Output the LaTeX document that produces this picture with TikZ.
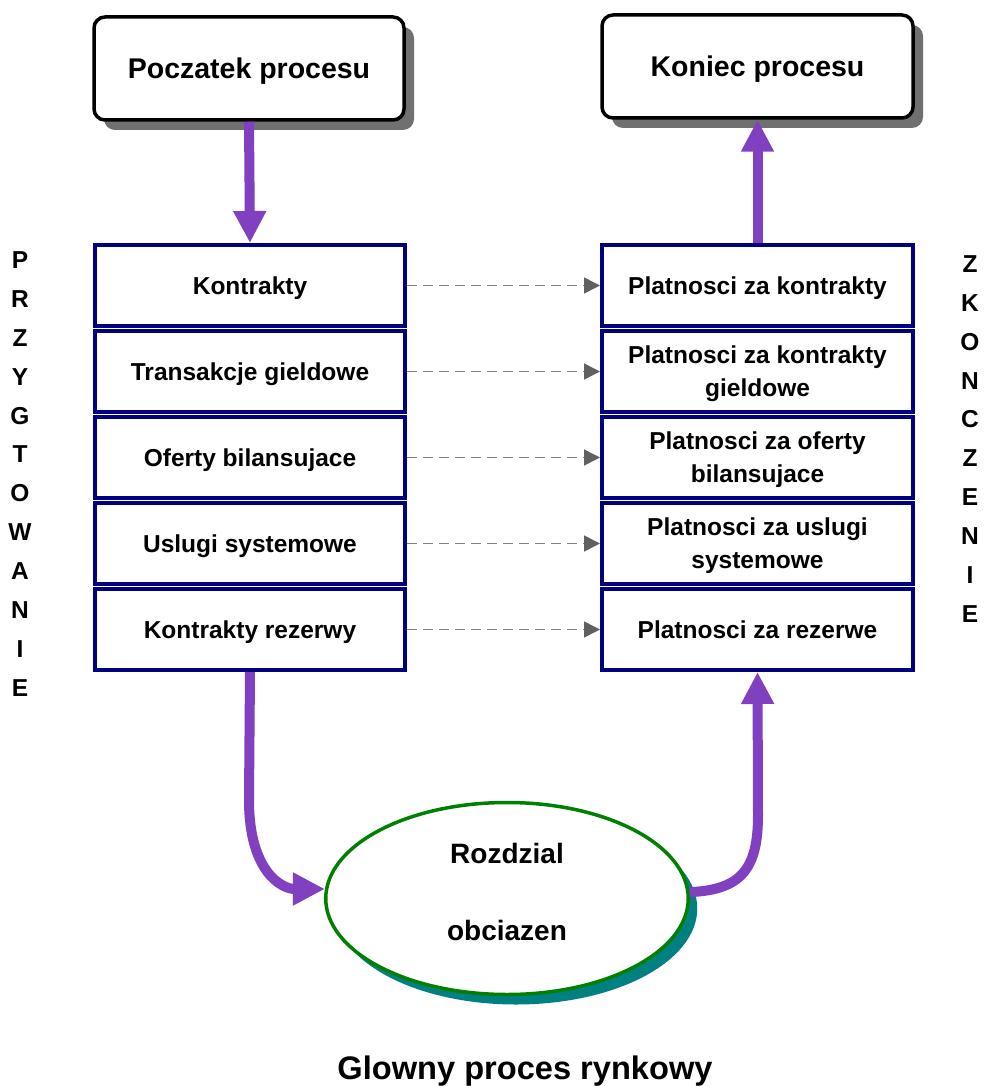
\documentclass[tikz,border=0pt]{standalone}
\usepackage{fontspec}
\setmainfont{Liberation Sans}
\usetikzlibrary{arrows.meta,shapes.geometric,shadows}

\definecolor{navyline}{RGB}{0,0,128}
\definecolor{flow}{RGB}{128,64,192}
\definecolor{ringgreen}{RGB}{0,128,0}
\definecolor{ringshadow}{RGB}{0,128,128}
\definecolor{boxshadow}{RGB}{112,112,112}
\definecolor{dashgray}{RGB}{128,128,128}
\definecolor{tipgray}{RGB}{96,96,96}

\begin{document}
\begin{tikzpicture}[x=1pt,y=-1pt,
  endbox/.style={draw=black, line width=3.5pt, rounded corners=11pt, fill=white,
    minimum width=310pt, minimum height=103pt, inner sep=0pt, text depth=0pt,
    font=\fontsize{28.5}{34}\selectfont\bfseries,
    drop shadow={shadow xshift=10pt, shadow yshift=-10pt, fill=boxshadow, opacity=1}},
  stagebox/.style={draw=navyline, line width=4pt, fill=white,
    minimum width=310pt, minimum height=81pt, inner sep=0pt, align=center, text depth=0pt,
    font=\fontsize{24.5}{33}\selectfont\bfseries},
  flowarrow/.style={draw=flow, line width=10pt, -{Triangle[length=32pt,width=31pt]}},
  linkarrow/.style={draw=dashgray, line width=1.5pt, dash pattern=on 10pt off 6pt,
    -{Triangle[length=16pt,width=16pt,color=tipgray]}},
  sidelabel/.style={align=center, inner sep=0pt, font=\fontsize{24.5}{38.9}\selectfont\bfseries}
]
\useasboundingbox (0,0) rectangle (985,1086);

% start and end of the process
\node[endbox] (start) at (249,68.5) {Poczatek procesu};
\node[endbox, minimum width=311pt] (finish) at (757.5,66.5) {Koniec procesu};

% preparation column
\node[stagebox] (l1) at (250,285.5) {Kontrakty};
\node[stagebox] (l2) at (250,371.5) {Transakcje gieldowe};
\node[stagebox] (l3) at (250,457.5) {Oferty bilansujace};
\node[stagebox] (l4) at (250,543.5) {Uslugi systemowe};
\node[stagebox] (l5) at (250,629.5) {Kontrakty rezerwy};

% settlement column
\node[stagebox, minimum width=311pt] (r1) at (757.5,285.5) {Platnosci za kontrakty};
\node[stagebox, minimum width=311pt] (r2) at (757.5,371.5) {Platnosci za kontrakty\\gieldowe};
\node[stagebox, minimum width=311pt] (r3) at (757.5,457.5) {Platnosci za oferty\\bilansujace};
\node[stagebox, minimum width=311pt] (r4) at (757.5,543.5) {Platnosci za uslugi\\systemowe};
\node[stagebox, minimum width=311pt] (r5) at (757.5,629.5) {Platnosci za rezerwe};

% side captions
\node[sidelabel] (prep) at (20,474) {P\\R\\Z\\Y\\G\\T\\O\\W\\A\\N\\I\\E};
\node[sidelabel] (close) at (970,439) {Z\\K\\O\\N\\C\\Z\\E\\N\\I\\E};

% cost allocation
\node[ellipse, draw=ringgreen, line width=3.5pt, fill=white,
  minimum width=362.5pt, minimum height=192pt, inner sep=0pt,
  drop shadow={shadow xshift=9pt, shadow yshift=-10pt, fill=ringshadow, opacity=1}]
  (alloc) at (507,898.5) {};
\node[align=center, font=\fontsize{28}{77}\selectfont\bfseries] (alloctext) at (507,891.5) {Rozdzial\\obciazen};

% main title
\node[anchor=base, font=\fontsize{32.6}{38}\selectfont\bfseries] (title) at (525,1079) {Glowny proces rynkowy};

% dashed links between columns
\foreach \i in {1,...,5}
  \draw[linkarrow] (l\i.east) -- (r\i.west);

% process flow
\draw[flowarrow] (start.south) -- (l1.north);
\draw[flowarrow] (r1.north) -- (finish.south);
\draw[flowarrow] (l5.south) -- (249,800) .. controls (249,872) and (282,889) .. (alloc.177.5);
\draw[flowarrow] (alloc.2.5) .. controls (742,890) and (758,868) .. (758,815) -- (r5.south);
\end{tikzpicture}
\end{document}
